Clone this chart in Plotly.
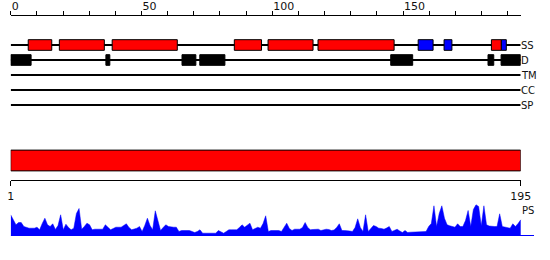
import plotly.graph_objects as go

# ---------------- data ----------------
length = 195
tracks = ["SS", "D", "TM", "CC", "SP"]

ss_helix_start = [6.7, 18.6, 38.8, 85.5, 98.4, 117.5, 183.8]
ss_helix_end = [15.7, 35.8, 63.7, 95.9, 115.6, 146.6, 187.6]
ss_strand_start = [155.8, 165.7, 187.6]
ss_strand_end = [161.5, 168.7, 189.5]
dis_start = [0.0, 36.4, 65.5, 72.3, 145.3, 182.5, 187.5]
dis_end = [7.8, 37.9, 70.8, 81.9, 153.7, 184.7, 194.9]

top_ticks = list(range(0, 191, 10))
top_labels = [str(t) if t % 50 == 0 else "" for t in top_ticks]

residues = list(range(1, 196))
ps_values = [
    20.7, 16, 10.7, 13, 13, 9, 8, 7.3, 7.3, 7.3,
    8.3, 5.7, 12, 17.3, 10.7, 9, 11.7, 6, 10, 20.7,
    5.7, 11.3, 8, 5.7, 7.3, 22, 27, 6.3, 9, 12.3,
    10.7, 5.7, 6.3, 6.3, 6.3, 6.3, 10.7, 8, 5.7, 7,
    8.3, 8.3, 8.3, 10, 11.7, 8, 5.7, 6.5, 7.3, 9,
    4, 10, 17.3, 10, 5.7, 24.7, 15, 5, 8, 10.7,
    9, 8.3, 8.3, 8.3, 4, 5, 5, 5, 5, 4,
    3, 4, 5.7, 2.3, 2.3, 2.3, 2.3, 2.3, 2.3, 5,
    4, 2.3, 4, 5.7, 5.7, 5.7, 5.7, 8, 10.7, 8.3,
    10, 12.3, 5.7, 7, 8.3, 7.3, 12, 19.7, 4, 5,
    5, 5, 5, 4, 8, 12.3, 7, 5, 6.3, 6.3,
    6.3, 8, 13, 8, 5.7, 6, 6.3, 6.3, 5, 5.5,
    6.3, 6, 5, 5.5, 8, 11.7, 5, 5, 5, 4.5,
    4, 8, 16.7, 8, 4, 20.7, 4, 7, 10, 9,
    7.3, 7, 6.3, 7.5, 9, 4, 5, 6.3, 4.5, 3,
    5, 3, 3.3, 3.3, 3.3, 3.3, 3.3, 3.3, 4, 9,
    12, 29.7, 9, 22, 29.7, 17.3, 10.7, 9.7, 9, 8.3,
    11.7, 9, 9, 15, 25, 9, 26, 30.7, 29, 9.7,
    29.7, 10.7, 9.5, 9, 9, 9, 21.7, 9, 8.3, 7.5,
    7.3, 11.7, 9, 12, 15.7,
]

# ---------------- figure ----------------
W, H = 550, 260
def py(p):
    return 1 - p / H

x_left = 10.7 / W
x_right = 520.7 / W
px_per_res = (520.7 - 10.7) / (length - 1)
ps_end = 1 + (534 - 10.7) / px_per_res

fig = go.Figure()

line_w = 1.0 / 15
# track baselines
for i, t in enumerate(tracks):
    fig.add_trace(go.Bar(
        orientation="h", y=[i], x=[length], base=[0], width=line_w,
        marker=dict(color="black", line=dict(width=0)),
        xaxis="x", yaxis="y", showlegend=False, hoverinfo="skip"))

box_w = 0.71
def seg_trace(starts, ends, row, color):
    return go.Bar(
        orientation="h", y=[row] * len(starts),
        x=[e - s for s, e in zip(starts, ends)], base=starts, width=box_w,
        marker=dict(color=color, line=dict(color="black", width=1)),
        xaxis="x", yaxis="y", showlegend=False)

fig.add_trace(seg_trace(ss_helix_start, ss_helix_end, 0, "#ff0000"))
fig.add_trace(seg_trace(ss_strand_start, ss_strand_end, 0, "#0000ff"))
fig.add_trace(seg_trace(dis_start, dis_end, 1, "black"))

# full-length bar
fig.add_trace(go.Bar(
    orientation="h", y=[0], x=[length - 1], base=[1], width=0.67,
    marker=dict(color="#ff0000", line=dict(color="black", width=1)),
    xaxis="x2", yaxis="y2", showlegend=False))

# PS profile
fig.add_trace(go.Scatter(
    x=[1, ps_end], y=[0, 0], mode="lines",
    line=dict(color="#0000ff", width=1),
    xaxis="x3", yaxis="y3", showlegend=False, hoverinfo="skip"))
fig.add_trace(go.Scatter(
    x=residues, y=ps_values, mode="lines", fill="tozeroy",
    fillcolor="#0000ff", line=dict(color="#0000ff", width=0.5),
    xaxis="x3", yaxis="y3", showlegend=False))

font = dict(family="DejaVu Sans", size=11, color="#111")
lab_font = dict(family="DejaVu Sans", size=10, color="#111")

annotations = []
for i, t in enumerate(tracks):
    annotations.append(dict(
        text=t, x=length, y=i, xref="x", yref="y", xanchor="left",
        yanchor="middle", showarrow=False, font=lab_font,
        borderpad=0, xshift=-1))
annotations.append(dict(
    text="PS", x=length, y=25, xref="x3", yref="y3", xanchor="left",
    yanchor="middle", showarrow=False, font=lab_font, borderpad=0, xshift=0))

fig.update_layout(
    template="none",
    width=W, height=H, autosize=False,
    margin=dict(l=0, r=0, t=0, b=0, pad=0, autoexpand=False),
    paper_bgcolor="white", plot_bgcolor="white",
    barmode="overlay",
    showlegend=False,
    font=font,
    annotations=annotations,
    xaxis=dict(
        domain=[x_left, x_right], range=[0, length], side="top",
        anchor="free", position=py(14.5), automargin=False,
        showline=True, linecolor="black", linewidth=1,
        ticks="outside", ticklen=4, tickcolor="black", tickwidth=1,
        tickmode="array", tickvals=top_ticks, ticktext=top_labels,
        ticklabelposition="outside right",
        showgrid=False, zeroline=False, fixedrange=True,
        tickfont=dict(family="DejaVu Sans", size=11, color="#111")),
    yaxis=dict(
        domain=[py(120), py(30)], range=[5, -1], visible=False,
        automargin=False, showgrid=False, zeroline=False),
    xaxis2=dict(
        domain=[x_left, x_right], range=[1, length], side="bottom",
        anchor="free", position=py(180.3), automargin=False,
        showline=True, linecolor="black", linewidth=1,
        ticks="outside", ticklen=5, tickcolor="black", tickwidth=1,
        tickmode="array", tickvals=[1, length], ticktext=["1", str(length)],
        showgrid=False, zeroline=False,
        tickfont=dict(family="DejaVu Sans", size=11, color="#111")),
    yaxis2=dict(
        domain=[py(176), py(145)], range=[-0.5, 0.5], visible=False,
        automargin=False, showgrid=False, zeroline=False),
    xaxis3=dict(
        domain=[x_left, 534 / W], range=[1, ps_end], visible=False,
        automargin=False, showgrid=False, zeroline=False),
    yaxis3=dict(
        domain=[py(236), py(196)], range=[-0.5, 39.5], visible=False,
        automargin=False, showgrid=False, zeroline=False),
)

fig.write_html("out.html", config={"responsive": False})
